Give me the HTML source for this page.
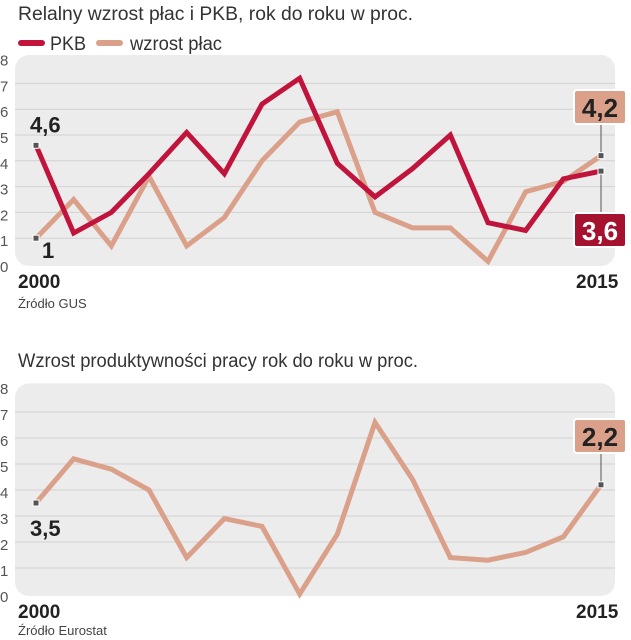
<!DOCTYPE html>
<html><head><meta charset="utf-8"><style>
body{margin:0;background:#fff;width:631px;height:640px;overflow:hidden;font-family:"Liberation Sans",sans-serif}
svg{display:block}
</style></head><body>
<svg id="c" width="631" height="640">
<text x="18" y="20" font-size="19" fill="#333" textLength="395" lengthAdjust="spacingAndGlyphs">Relalny wzrost płac i PKB, rok do roku w proc.</text>
<g>
<line x1="21" y1="43" x2="42" y2="43" stroke="#c0143c" stroke-width="6" stroke-linecap="round"/>
<text x="50" y="50" font-size="19" fill="#333" textLength="36" lengthAdjust="spacingAndGlyphs">PKB</text>
<line x1="99" y1="43" x2="120" y2="43" stroke="#dba08a" stroke-width="6" stroke-linecap="round"/>
<text x="130" y="50" font-size="19" fill="#333" textLength="92" lengthAdjust="spacingAndGlyphs">wzrost płac</text>
</g>
<text x="18" y="308" font-size="13" fill="#444">Źródło GUS</text>
<text x="18" y="367" font-size="19" fill="#333" textLength="400" lengthAdjust="spacingAndGlyphs">Wzrost produktywności pracy rok do roku w proc.</text>
<text x="18" y="635" font-size="13" fill="#444">Źródło Eurostat</text>
</svg>
<script>
const years=[2000,2001,2002,2003,2004,2005,2006,2007,2008,2009,2010,2011,2012,2013,2014,2015];
const pkb=[4.6,1.2,2.0,3.5,5.1,3.5,6.2,7.2,3.9,2.6,3.7,5.0,1.6,1.3,3.3,3.6];
const wages=[1.0,2.5,0.7,3.4,0.7,1.8,4.0,5.5,5.9,2.0,1.4,1.4,0.1,2.8,3.2,4.2];
const productivity=[3.5,5.2,4.8,4.0,1.4,2.9,2.6,0.0,2.3,6.6,4.4,1.4,1.3,1.6,2.2,4.2];
const yTicks=[0,1,2,3,4,5,6,7,8];
const svg=document.getElementById('c');
const NS='http://www.w3.org/2000/svg';
function mk(t,a,p){const e=document.createElementNS(NS,t);for(const k in a)e.setAttribute(k,a[k]);(p||svg).appendChild(e);return e;}
function chart(name,y0,unit,series,colors,startLbl,endLbls){
  const g=mk('g',{});
  
  
  const xs=i=>36+(601-36)*(i)/(years.length-1);
  const ys=v=>y0-v*unit;
  const bg=mk('rect',{x:15,y:ys(8.1),width:600,height:y0-ys(8.1)+2,rx:14,fill:'#ececec'},g);
  
  
  yTicks.forEach(t=>{
    if(t>0&&t<8){const l=mk('line',{x1:15,x2:615,y1:ys(t),y2:ys(t),stroke:'#d2d2d2','stroke-width':1},g);
    
    }
    const tx=mk('text',{x:0,y:ys(t)+8,'font-size':15,fill:'#555'},g);tx.textContent=t;
    
    
  });
  series.forEach((s,k)=>{
    const p=mk('polyline',{points:s.map((v,i)=>xs(i)+','+ys(v)).join(' '),fill:'none',stroke:colors[k],'stroke-width':5,'stroke-linejoin':'miter'},g);
    
    
  });
  const ex=mk('text',{x:18,y:y0+24,'font-size':19,'font-weight':'bold',fill:'#222'},g);ex.textContent=years[0];
  
  
  const ee=mk('text',{x:576,y:y0+24,'font-size':19,'font-weight':'bold',fill:'#222'},g);ee.textContent=years[years.length-1];
  
  
  startLbl.forEach(o=>{
    const s=series[o.s][0];
    const m=mk('rect',{x:xs(0)-3,y:ys(s)-3,width:6,height:6,fill:'#555',stroke:'#fff','stroke-width':1},g);
    
    
    const t=mk('text',{x:o.x,y:ys(s)+o.dy,'font-size':22,'font-weight':'bold',fill:'#222'},g);t.textContent=o.txt;
    
    
  });
  endLbls.forEach(o=>{
    const n=series[o.s].length-1,v=series[o.s][n],px=xs(n);
    mk('line',{x1:px,x2:px,y1:ys(v),y2:o.by,stroke:'#555','stroke-width':1},g);
    const m=mk('rect',{x:px-3,y:ys(v)-3,width:6,height:6,fill:'#555',stroke:'#fff','stroke-width':1},g);
    
    
    const b=mk('rect',{x:574,y:o.top,width:52,height:34,rx:3,fill:o.fill,stroke:'#fff','stroke-width':2},g);
    
    
    const t=mk('text',{x:600,y:o.top+27,'font-size':26,'font-weight':'bold','text-anchor':'middle',fill:o.tc},g);t.textContent=o.txt;
    
    
  });
}
chart('top-chart',264,25.8,[wages,pkb],['#dba08a','#c0143c'],
 [{s:1,txt:'4,6',x:30,dy:-13},{s:0,txt:'1',x:42,dy:20}],
 [{s:0,txt:'4,2',top:90,by:124,fill:'#dba08a',tc:'#222'},{s:1,txt:'3,6',top:213,by:213,fill:'#a5122f',tc:'#fff'}]);
chart('bottom-chart',594,26,[productivity],['#dba08a'],
 [{s:0,txt:'3,5',x:30,dy:33}],
 [{s:0,txt:'2,2',top:419,by:453,fill:'#dba08a',tc:'#222'}]);
</script>
</body></html>
